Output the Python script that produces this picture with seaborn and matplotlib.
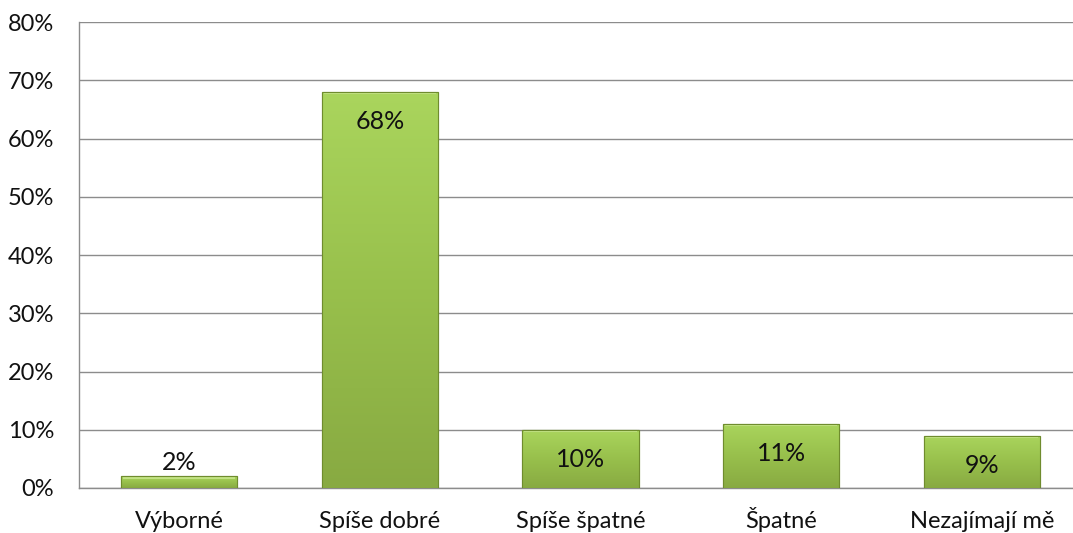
import matplotlib
matplotlib.use("Agg")
import matplotlib.pyplot as plt
import matplotlib.patheffects as pe
from matplotlib.colors import LinearSegmentedColormap
from matplotlib.ticker import FuncFormatter
import numpy as np
import pandas as pd
import seaborn as sns

categories = ["Výborné", "Spíše dobré", "Spíše špatné", "Špatné", "Nezajímají mě"]
values = [2, 68, 10, 11, 9]
y_ticks = [0, 10, 20, 30, 40, 50, 60, 70, 80]

sns.set_theme(style="white")
plt.rcParams["font.family"] = ["Lato", "DejaVu Sans"]

df = pd.DataFrame({"cat": categories, "val": values})

fig = plt.figure(figsize=(10.73, 5.33), dpi=100)
# plot area runs a little past the right edge of the figure, as in the reference
ax = fig.add_axes([79 / 1073, 45 / 533, 1003 / 1073, 466 / 533])

sns.barplot(data=df, x="cat", y="val", ax=ax, width=0.58, color="#9cc34e",
            edgecolor="#6f8c2e", linewidth=0.8, zorder=3)

green = LinearSegmentedColormap.from_list("g", ["#88aa42", "#98c04c", "#aad55d"])
grad = np.linspace(0, 1, 256).reshape(-1, 1)
for bar in ax.patches:
    x0, y0 = bar.get_x(), bar.get_y()
    w, h = bar.get_width(), bar.get_height()
    bar.set_path_effects([pe.SimplePatchShadow(offset=(0.5, -3), shadow_rgbFace="#808080", alpha=0.35),
                          pe.Normal()])
    im = ax.imshow(grad, cmap=green, aspect="auto", origin="lower",
                   extent=[x0, x0 + w, y0, y0 + h], zorder=3.5)
    im.set_clip_path(bar)
    # thin bevel highlight on top edge
    ax.plot([x0 + 0.01, x0 + w - 0.01], [y0 + h - 0.25, y0 + h - 0.25],
            color="#c2e283", lw=1.5, zorder=3.6, solid_capstyle="butt")
    ax.add_patch(plt.Rectangle((x0, y0), w, h, fill=False, edgecolor="#6f8c2e",
                               lw=0.8, zorder=3.7))

for i, v in enumerate(values):
    off = -30 if v > 5 else 14
    ax.annotate(f"{v}%", (i, v), xytext=(0, off), textcoords="offset pixels",
                ha="center", va="center", fontsize=18, color="#111111", zorder=5)

ax.set_xlim(-0.5, len(categories) - 0.5)
ax.set_ylim(0, 80)
ax.set_yticks(y_ticks)
ax.yaxis.set_major_formatter(FuncFormatter(lambda y, _: f"{y:.0f}%"))
ax.grid(axis="y", color="#8c8c8c", linewidth=1.0, zorder=0)
ax.set_axisbelow(True)
ax.set_xlabel("")
ax.set_ylabel("")
ax.tick_params(axis="both", length=0, labelsize=17, colors="#111111")
ax.tick_params(axis="y", pad=18)
ax.tick_params(axis="x", pad=29)
for lbl in ax.get_xticklabels():
    lbl.set_va("baseline")
for s in ["top", "right"]:
    ax.spines[s].set_visible(False)
for s in ["left", "bottom"]:
    ax.spines[s].set_color("#8c8c8c")
    ax.spines[s].set_linewidth(1.0)

fig.savefig("out.png", dpi=100)
